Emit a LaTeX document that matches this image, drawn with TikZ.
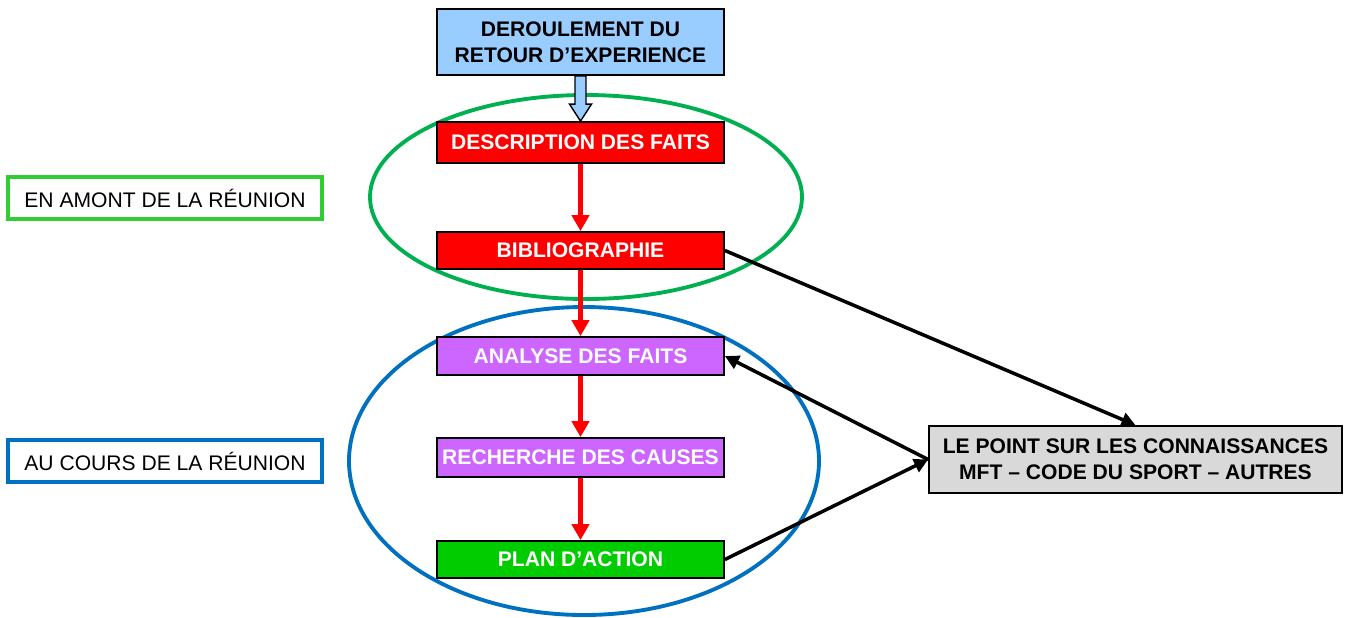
\documentclass[tikz,border=0pt]{standalone}
\usepackage{fontspec}
\setmainfont{Liberation Sans}
\usetikzlibrary{arrows.meta, positioning}
\definecolor{skyblue}{HTML}{99CCFF}
\definecolor{factred}{HTML}{FF0000}
\definecolor{violet}{HTML}{CC66FF}
\definecolor{actgreen}{HTML}{00CC00}
\definecolor{ringgreen}{HTML}{00B050}
\definecolor{ringblue}{HTML}{0070C0}
\definecolor{tagGreen}{HTML}{33CC33}
\definecolor{knowgray}{HTML}{D9D9D9}

\begin{document}
\begin{tikzpicture}[
  stage/.style={draw=black, line width=1pt, minimum width=5.74cm, inner sep=0pt, align=center, text=white, font=\fontsize{12}{14.5}\selectfont\bfseries},
  title/.style={draw=black, line width=1pt, fill=skyblue, minimum width=5.74cm, minimum height=1.32cm, align=center, font=\fontsize{12}{14.5}\selectfont\bfseries},
  tag/.style={line width=2.2pt, minimum width=6.28cm, minimum height=0.84cm, font=\fontsize{12}{14.5}\selectfont},
  know/.style={draw=black, line width=1pt, fill=knowgray, minimum width=8.26cm, minimum height=1.34cm, align=center, font=\fontsize{12}{14.8}\selectfont\bfseries},
  ring/.style={line width=2.2pt},
  flow/.style={-{Triangle[length=0.32cm, width=0.34cm]}, line width=2.3pt, color=factred},
  link/.style={-{Triangle[length=0.28cm, width=0.28cm]}, line width=2pt, color=black},
  blockarrow/.style={draw=black, fill=skyblue, line width=0.8pt, line join=miter}
]
  \useasboundingbox (0,0) rectangle (26.98,-12.34);

  % rings behind the stages
  \draw[ring, ringgreen] (11.72,-3.94) ellipse (4.32cm and 2.04cm);
  \draw[ring, ringblue] (11.68,-9.22) ellipse (4.7cm and 3.08cm);

  \node[title] (retour) at (11.61,-0.84) {DEROULEMENT DU\\RETOUR D’EXPERIENCE};

  \node[stage, fill=factred, minimum height=0.82cm] (desc) at (11.61,-2.85) {DESCRIPTION DES FAITS};
  \node[stage, fill=factred, minimum height=0.74cm] (biblio) at (11.61,-5.01) {BIBLIOGRAPHIE};
  \node[stage, fill=violet, minimum height=0.76cm] (analyse) at (11.61,-7.12) {ANALYSE DES FAITS};
  \node[stage, fill=violet, minimum height=0.78cm] (causes) at (11.61,-9.15) {RECHERCHE DES CAUSES};
  \node[stage, fill=actgreen, minimum height=0.74cm] (plan) at (11.61,-11.19) {PLAN D’ACTION};

  \node[tag, draw=tagGreen] (amont) at (3.3,-3.96) {EN AMONT DE LA RÉUNION};
  \node[tag, draw=ringblue] (cours) at (3.3,-9.22) {AU COURS DE LA RÉUNION};

  \node[know] (point) at (22.71,-9.19) {LE POINT SUR LES CONNAISSANCES\\MFT – CODE DU SPORT – AUTRES};

  % block arrow from the title to the first stage
  \draw[blockarrow] ([xshift=-0.11cm]retour.south) -- ([xshift=-0.11cm, yshift=0.34cm]desc.north)
    -- ([xshift=-0.22cm, yshift=0.34cm]desc.north) -- (desc.north)
    -- ([xshift=0.22cm, yshift=0.34cm]desc.north) -- ([xshift=0.11cm, yshift=0.34cm]desc.north)
    -- ([xshift=0.11cm]retour.south) -- cycle;

  \draw[flow] (desc) -- (biblio);
  \draw[flow] (biblio) -- (analyse);
  \draw[flow] (analyse) -- (causes);
  \draw[flow] (causes) -- (plan);

  \draw[link] (biblio.east) -- (point.north);
  \draw[link] (point.west) -- (analyse.east);
  \draw[link] (plan.east) -- (point.west);
\end{tikzpicture}
\end{document}
